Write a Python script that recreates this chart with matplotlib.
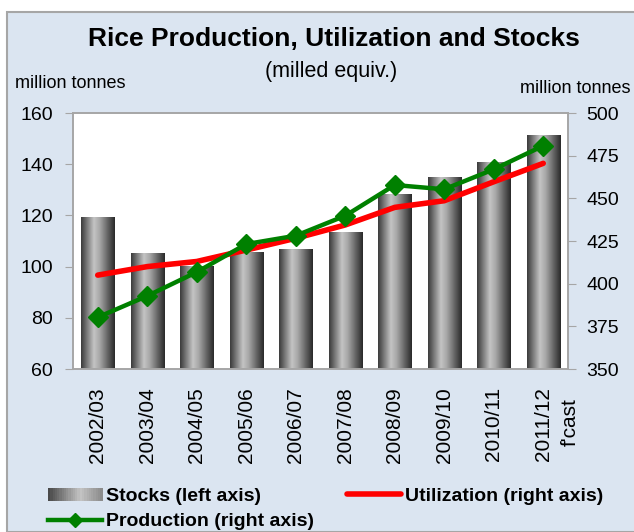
import matplotlib.pyplot as plt
import numpy as np
from matplotlib.colors import LinearSegmentedColormap
from matplotlib.patches import Rectangle
from matplotlib.lines import Line2D
from matplotlib.legend_handler import HandlerBase

plt.rcParams['font.family'] = ['Liberation Sans', 'DejaVu Sans']

seasons = ['2002/03', '2003/04', '2004/05', '2005/06', '2006/07',
           '2007/08', '2008/09', '2009/10', '2010/11', '2011/12']
stocks = [119.0, 105.3, 100.0, 105.4, 106.5, 113.5, 128.3, 134.7, 140.6, 151.1]
utilization = [405.0, 410.0, 413.0, 419.7, 426.6, 434.4, 444.7, 448.6, 459.7, 470.5]
production = [380.3, 392.8, 406.8, 423.2, 428.1, 439.8, 457.8, 455.3, 467.0, 480.8]

W, H = 634, 532
bg = '#dbe5f1'
edge = '#a6a6a6'
bar_cmap = LinearSegmentedColormap.from_list(
    'cyl', [(0, '#3c3c3c'), (0.38, '#c4c4c4'), (0.55, '#a8a8a8'), (1, '#2a2a2a')])
leg_cmap = LinearSegmentedColormap.from_list(
    'leg', [(0, '#4a4a4a'), (0.6, '#c4c4c4'), (1, '#8c8c8c')])
grad = np.linspace(0, 1, 64).reshape(1, -1)

fig = plt.figure(figsize=(W / 100, H / 100), dpi=100, facecolor='white')
fig.patches.append(Rectangle((7 / W, 0), 1, (H - 12) / H, transform=fig.transFigure,
                             facecolor=bg, edgecolor=edge, linewidth=1.5, zorder=-1))

ax = fig.add_axes([73 / W, 1 - 369 / H, (568 - 73) / W, (369 - 113) / H])
ax.set_facecolor('white')
x = np.arange(len(seasons))
w = 0.67
for xi, v in zip(x, stocks):
    ax.imshow(grad, cmap=bar_cmap, aspect='auto', extent=(xi - w / 2, xi + w / 2, 60, v),
              interpolation='bilinear', zorder=2)
ax.set_xlim(-0.5, len(seasons) - 0.5)
ax.set_ylim(60, 160)
ax.set_yticks(range(60, 161, 20))
ax.set_xticks(x)
ax.set_xticklabels(seasons, rotation=90, fontsize=15, va='top', ha='center')
ax.tick_params(axis='x', length=0, pad=13)
ax.tick_params(axis='y', labelsize=14, length=6, color=edge, direction='out', pad=8.5)
ax.annotate("f'cast", xy=(x[-1], 0), xycoords=('data', 'axes fraction'),
            xytext=(27, -53.5), textcoords='offset pixels', rotation=90,
            ha='center', va='center', fontsize=15)

ax2 = ax.twinx()
ax2.plot(x, utilization, color='#ff0000', lw=4, solid_capstyle='round', zorder=3)
ax2.plot(x, production, color='#008000', lw=3.2, marker='D', markersize=10, zorder=4)
ax2.set_ylim(350, 500)
ax2.set_yticks(range(350, 501, 25))
ax2.tick_params(axis='y', labelsize=14, length=6, color=edge, direction='out', pad=7)

for a in (ax, ax2):
    for s in a.spines.values():
        s.set_color(edge)
        s.set_linewidth(1.2)

fig.text(334 / W, 1 - 46 / H, 'Rice Production, Utilization and Stocks', ha='center',
         va='baseline', fontsize=19, fontweight='bold')
fig.text(331 / W, 1 - 77 / H, '(milled equiv.)', ha='center', va='baseline', fontsize=15.5)
fig.text(15 / W, 1 - 88 / H, 'million tonnes', ha='left', va='baseline', fontsize=13)
fig.text(520 / W, 1 - 93 / H, 'million tonnes', ha='left', va='baseline', fontsize=13)


class GradHandler(HandlerBase):
    def create_artists(self, legend, orig, xd, yd, width, height, fontsize, trans):
        arts = []
        n = 24
        for i in range(n):
            r = Rectangle((xd + width * i / n, yd), width / n + 0.3, height * 0.9,
                          facecolor=leg_cmap(i / (n - 1)), edgecolor='none', transform=trans)
            arts.append(r)
        return arts


stock_h = Rectangle((0, 0), 1, 1)
prod_h = Line2D([], [], color='#008000', lw=3.2, marker='D', markersize=7)
util_h = Line2D([], [], color='#ff0000', lw=4, solid_capstyle='round')
leg_kw = dict(loc='upper left', frameon=False, prop={'size': 14, 'weight': 'bold'},
              handlelength=2.8, handletextpad=0.2, labelspacing=0.42, borderpad=0,
              borderaxespad=0)
leg1 = fig.legend([stock_h, prod_h], ['Stocks (left axis)', 'Production (right axis)'],
                  handler_map={stock_h: GradHandler()},
                  bbox_to_anchor=(48 / W, 1 - 487 / H), **leg_kw)
fig.legend([util_h], ['Utilization (right axis)'],
           bbox_to_anchor=(347 / W, 1 - 487 / H), **leg_kw)

fig.savefig('out.png', dpi=100, facecolor='white')
